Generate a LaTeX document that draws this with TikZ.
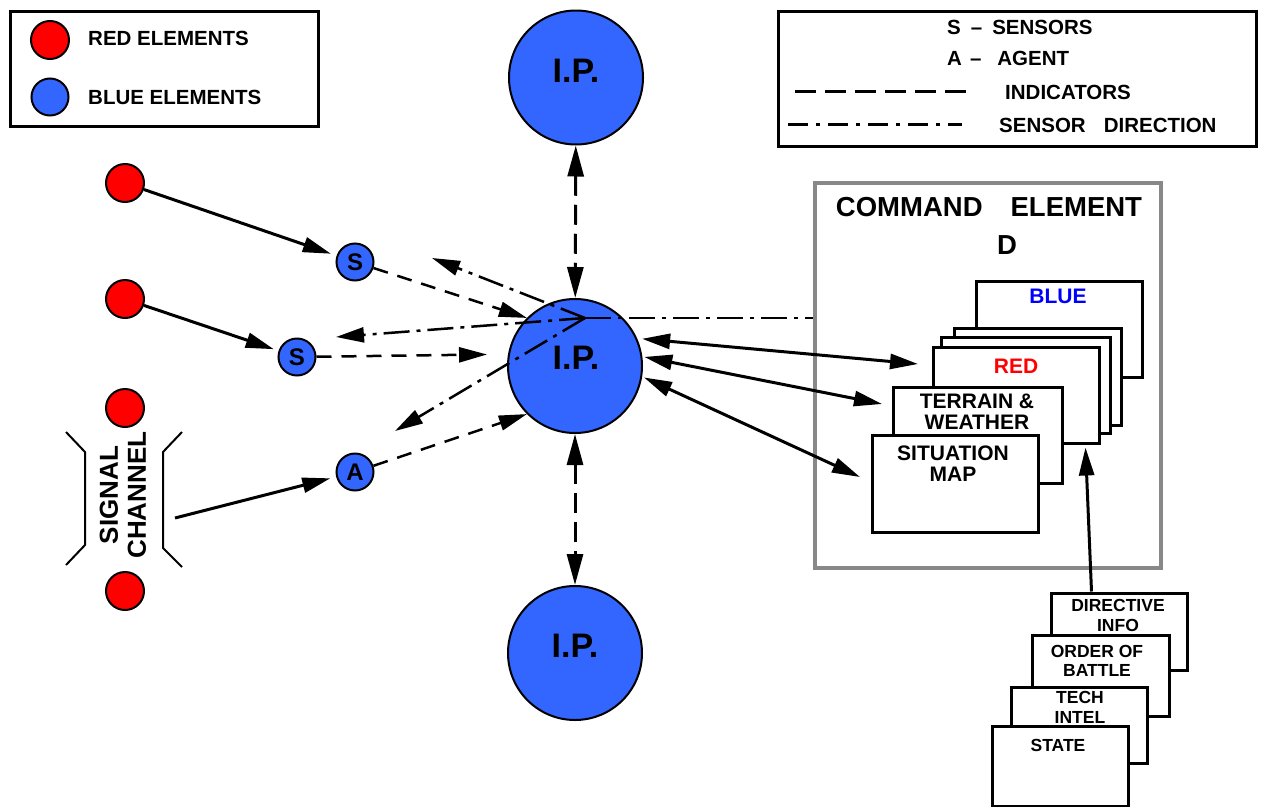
\documentclass[tikz,border=0pt]{standalone}
\usepackage{fontspec}
\setmainfont{Liberation Sans}
\usetikzlibrary{arrows.meta,calc}
\definecolor{redel}{RGB}{255,0,0}
\definecolor{blueel}{RGB}{51,102,255}
\definecolor{cmdgray}{RGB}{136,136,136}
\definecolor{bluetext}{RGB}{0,0,255}
\begin{document}
\begin{tikzpicture}[x=1pt,y=-1pt,
  fs/.style={font=\fontsize{#1}{#1}\selectfont\bfseries},
  txt/.style={inner sep=0pt, fs=#1},
  reddot/.style={circle, draw, line width=2pt, fill=redel, minimum size=38pt, inner sep=0pt},
  bluedot/.style={circle, draw, line width=2pt, fill=blueel, minimum size=37pt, inner sep=0pt, fs=24},
  ipc/.style={circle, draw, line width=2pt, fill=blueel, minimum size=134pt, inner sep=0pt},
  stackbox/.style={draw, line width=3pt, fill=white, inner sep=0pt, minimum width=166pt, minimum height=96pt},
  lowbox/.style={draw, line width=3pt, fill=white, inner sep=0pt, minimum width=136pt, minimum height=78pt},
  legbox/.style={draw, line width=3pt, inner sep=0pt},
  tip/.tip={Triangle[length=28pt,width=15pt]},
  vtip/.tip={Triangle[length=31pt,width=16pt]},
  solidarrow/.style={line width=3pt, -tip},
  dblsolid/.style={line width=3pt, tip-tip},
  indic/.style={line width=2.5pt, dash pattern=on 15pt off 10pt},
  vdash/.style={line width=3pt, dash pattern=on 20pt off 9pt, vtip-vtip},
  sdir/.style={line width=2.5pt, dash pattern=on 26pt off 7pt on 4pt off 7pt},
  bracket/.style={line width=2pt}
]
\useasboundingbox (0,0) rectangle (1261,806);

% ---------- legends ----------
\node[legbox, minimum width=308pt, minimum height=115pt] (legL) at (164,68.5) {};
\node[reddot] (legred) at (50,40) {};
\node[bluedot] (legblue) at (50,97) {};
\node[txt=20.5, anchor=west] (legredt) at (88,38) {RED ELEMENTS};
\node[txt=20.5, anchor=west] (legbluet) at (88,97) {BLUE ELEMENTS};

\node[legbox, minimum width=478pt, minimum height=135pt] (legR) at (1017,78.5) {};
\node[txt=20.5, anchor=west] (legS) at (947,27) {S\hspace{10pt}–\hspace{10pt}SENSORS};
\node[txt=20.5, anchor=west] (legA) at (947,58) {A\hspace{8pt}–\hspace{16pt}AGENT};
\node[txt=20.5, anchor=west] (legI) at (1005,92) {INDICATORS};
\node[txt=20.5, anchor=west] (legD) at (999,125) {SENSOR\hspace{18pt}DIRECTION};
\draw[line width=3pt, dash pattern=on 21pt off 9pt] (795,91) -- (966,91);
\draw[line width=3pt, dash pattern=on 20pt off 8pt on 4pt off 8pt] (788,124) -- (962,124);

% ---------- command element ----------
\node[draw=cmdgray, line width=4pt, inner sep=0pt, minimum width=346pt, minimum height=385pt] (cmd) at (988,375.5) {};
\node[txt=27.5] (cmdt) at (989,207) {COMMAND\hspace{28pt}ELEMENT};
\node[txt=27.5] (cmdd) at (1007,245) {D};

\node[stackbox] (bluebox) at (1059,329) {};
\node[txt=21, text=bluetext] (bluet) at (1058,296) {BLUE};
\node[stackbox, minimum width=167pt, minimum height=97pt] (box2) at (1037.5,376.5) {};
\node[stackbox, minimum width=169pt] (box3) at (1025.5,385) {};
\node[stackbox] (redbox) at (1016,395) {};
\node[txt=21, text=redel] (redt) at (1016,366) {RED};
\node[stackbox, minimum width=169pt] (terrbox) at (977.5,435) {};
\node[txt=21, align=center, font=\fontsize{21}{21}\selectfont\bfseries] (terrt) at (977,411.5) {TERRAIN \&\\WEATHER};
\node[stackbox, minimum height=97pt] (sitbox) at (955,483.5) {};
\node[txt=21, align=center, font=\fontsize{21}{21}\selectfont\bfseries] (sitt) at (953,463.5) {SITUATION\\MAP};

% ---------- lower stack ----------
\node[lowbox, minimum height=77pt] (dirbox) at (1119,631.5) {};
\node[txt=17.5, align=center, font=\fontsize{17.5}{20}\selectfont\bfseries] (dirt) at (1118,615) {DIRECTIVE\\INFO};
\node[lowbox, minimum width=137pt, minimum height=81pt] (obbox) at (1100.5,675.5) {};
\node[txt=17.5, align=center, font=\fontsize{17.5}{19}\selectfont\bfseries] (obt) at (1097,661) {ORDER OF\\BATTLE};
\node[lowbox, minimum height=76pt] (techbox) at (1079,725) {};
\node[txt=17.5, align=center, font=\fontsize{17.5}{20}\selectfont\bfseries] (techt) at (1080,707) {TECH\\INTEL};
\node[lowbox, minimum height=80pt] (statebox) at (1060,766) {};
\node[txt=17.5] (statet) at (1058,745) {STATE};

\draw[solidarrow] ($(dirbox.north west)+(42,0)$) -- ($(redbox.south east)+(-15,3)$);

% ---------- IP circles ----------
\node[ipc] (iptop) at (576,77.5) {};
\node[txt=34] (iptopt) at (576,70.5) {I.P.};
\node[ipc] (ipmid) at (575,366) {};
\node[txt=34] (ipmidt) at (576,358) {I.P.};
\node[ipc] (ipbot) at (575,653) {};
\node[txt=34] (ipbott) at (575,646) {I.P.};

\draw[vdash] (iptop) -- (ipmid);
\draw[vdash] (ipmid) -- (ipbot);

% ---------- red and blue elements ----------
\node[reddot] (red1) at (125,183) {};
\node[reddot] (red2) at (125,299) {};
\node[reddot] (red3) at (125,408) {};
\node[reddot] (red4) at (125,591) {};

\node[bluedot] (s1) at (355,262) {S};
\node[bluedot] (s2) at (297,357) {S};
\node[bluedot] (ag) at (355,472) {A};

% signal channel
\node[rotate=90, align=center, inner sep=0pt, font=\fontsize{26}{28}\selectfont\bfseries] (sig) at (123,495) {SIGNAL\\CHANNEL};
\draw[bracket] (66,432) -- (85,452) -- (85,545) -- (66,565);
\draw[bracket] (182,432) -- (163,452) -- (163,548) -- (182,567);
\coordinate (sigout) at (175,518);

\draw[solidarrow, shorten >=6pt] (red1) -- (s1);
\draw[solidarrow, shorten >=5pt] (red2) -- (s2);
\draw[solidarrow, shorten >=6pt] (sigout) -- (ag);

% indicators
\draw[indic, -tip] (s1) -- (ipmid.135);
\draw[indic, -tip, shorten >=21pt] (s2) -- (ipmid.170);
\draw[indic, -tip] (ag) -- (ipmid.225);

% sensor direction
\coordinate (sdo) at (585,318);
\coordinate (sd1) at (432,258);
\coordinate (sd2) at (336,337);
\coordinate (sd3) at (395,431);
\draw[sdir, -tip] (sdo) -- (sd1);
\draw[sdir, -tip] (sdo) -- (sd2);
\draw[sdir, -tip] (sdo) -- (sd3);
\draw[sdir] (sdo) -- (sdo -| cmd.west);

% IP <-> command element
\coordinate (t1) at (918,364);
\coordinate (t2) at (882,404);
\coordinate (t3) at (860,477);
\draw[dblsolid, shorten <=5pt] (ipmid.24) -- (t1);
\draw[dblsolid, shorten <=2pt] (ipmid.8) -- (t2);
\draw[dblsolid, shorten <=2pt] (ipmid.-9) -- (t3);
\end{tikzpicture}
\end{document}
